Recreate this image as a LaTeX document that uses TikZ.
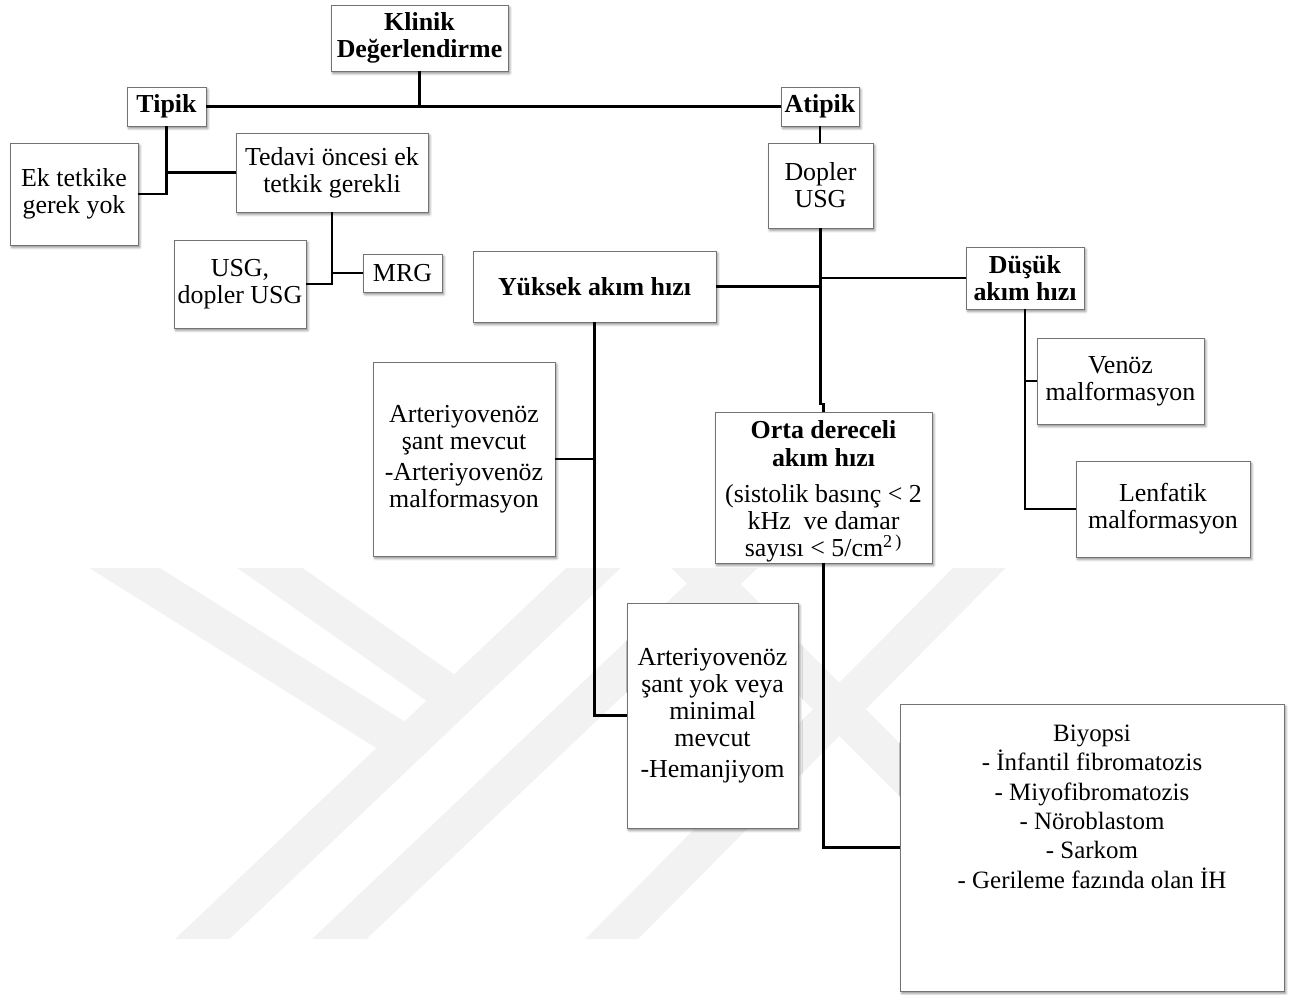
\documentclass[tikz,border=0pt]{standalone}
\usepackage{fontspec}
\setmainfont{Liberation Serif}
\usetikzlibrary{shadows.blur}
\newcommand{\boxfont}{\fontsize{14.75}{15.4}\selectfont}
\newcommand{\listfont}{\fontsize{14.2}{16.7}\selectfont}

\begin{document}
\begin{tikzpicture}[x=0.02cm, y=-0.02cm,
    box/.style={draw=black!55, fill=white, line width=0.5pt, inner sep=1pt, align=center, font=\boxfont,
        blur shadow={shadow xshift=1pt, shadow yshift=-1.4pt, shadow blur radius=1.4pt, shadow opacity=45}},
    boldbox/.style={box, font=\boxfont\bfseries},
    link/.style={line width=1.4pt},
    stripe/.style={line width=0.75cm, black!5}]

    \useasboundingbox (0,0) rectangle (1290,994);

    % watermark in the background
    \begin{scope}
        \clip (0,568) rectangle (1290,938);
        \draw[stripe] (623,540) -- (178,962);
        \draw[stripe] (760,540) -- (315,962);
        \draw[stripe] (80,540) -- (410,747);
        \draw[stripe] (230,540) -- (458,700);
        \draw[stripe] (1007,540) -- (589,962);
        \draw[stripe] (670,540) -- (1092,962);
    \end{scope}

    % boxes
    \node[boldbox, minimum width=3.54cm, minimum height=1.32cm] (klinik) at (419.5,38) {Klinik\\Değerlendirme};
    \node[boldbox, minimum width=1.58cm, minimum height=0.78cm] (tipik) at (166.5,106.5) {Tipik};
    \node[boldbox, minimum width=1.56cm, minimum height=0.78cm] (atipik) at (820,106.5) {Atipik};
    \node[box, minimum width=2.56cm, minimum height=2.04cm] (ektetkik) at (74,194) {Ek tetkike\\gerek yok};
    \node[box, minimum width=3.84cm, minimum height=1.58cm] (tedavi) at (332,172.5) {Tedavi öncesi ek\\tetkik gerekli};
    \node[box, minimum width=2.64cm, minimum height=1.76cm] (usg) at (240,284) {USG,\\dopler USG};
    \node[box, minimum width=1.58cm, minimum height=0.76cm] (mrg) at (402.5,273) {MRG};
    \node[box, minimum width=2.10cm, minimum height=1.70cm] (dopler) at (820.5,185.5) {Dopler\\USG};
    \node[boldbox, minimum width=4.86cm, minimum height=1.42cm] (yuksek) at (594.5,286.5) {Yüksek akım hızı};
    \node[boldbox, minimum width=2.36cm, minimum height=1.24cm] (dusuk) at (1025,278) {Düşük\\akım hızı};
    \node[box, minimum width=3.34cm, minimum height=1.72cm] (venoz) at (1120.5,381) {Venöz\\malformasyon};
    \node[box, minimum width=3.48cm, minimum height=1.92cm] (lenfatik) at (1163,509) {Lenfatik\\malformasyon};
    \node[box, minimum width=3.64cm, minimum height=3.88cm] (avsant) at (464,459)
        {Arteriyovenöz\\şant mevcut\\[2pt]-Arteriyovenöz\\malformasyon};
    \node[box, minimum width=4.34cm, minimum height=3.02cm, inner sep=0pt] (orta) at (823.5,487.5)
        {\rule{0pt}{14.5pt}\textbf{Orta dereceli}\\[0.5pt]\textbf{akım hızı}\\[5.5pt](sistolik basınç < 2\\kHz\ \ ve damar\\sayısı < 5/cm\textsuperscript{2\,)}};
    \node[box, minimum width=3.42cm, minimum height=4.50cm] (hemanjiyom) at (712.5,715.5)
        {Arteriyovenöz\\şant yok veya\\minimal\\mevcut\\[2pt]-Hemanjiyom};
    \node[box, minimum width=7.68cm, minimum height=5.74cm,
        label={[align=center, anchor=north, inner sep=0pt, yshift=-0.42cm, font=\listfont]north:Biyopsi\\- İnfantil fibromatozis\\- Miyofibromatozis\\- Nöroblastom\\- Sarkom\\- Gerileme fazında olan İH}]
        (biyopsi) at (1092,847.5) {};

    % connectors
    \coordinate (jog) at (820.5,404);
    \draw[link] (tipik) -- (atipik);
    \draw[link] (klinik) -- (klinik |- atipik);
    \draw[link] (tipik) |- (ektetkik);
    \draw[link] (tipik.south |- tedavi) -- (tedavi);
    \draw[link] (tedavi) |- (usg);
    \draw[link] (tedavi.south |- mrg) -- (mrg);
    \draw[link] (atipik) -- (atipik |- dopler.north);
    \draw[link] (dopler) -- (jog) -| (orta);
    \draw[link] (yuksek) -- (yuksek -| jog);
    \draw[link] (dusuk -| jog) -- (dusuk);
    \draw[link] (dusuk) |- (lenfatik);
    \draw[link] (dusuk.south |- venoz) -- (venoz);
    \draw[link] (yuksek) |- (hemanjiyom);
    \draw[link] (avsant) -- (avsant -| yuksek.south);
    \draw[link] (orta) |- (biyopsi);

\end{tikzpicture}
\end{document}
